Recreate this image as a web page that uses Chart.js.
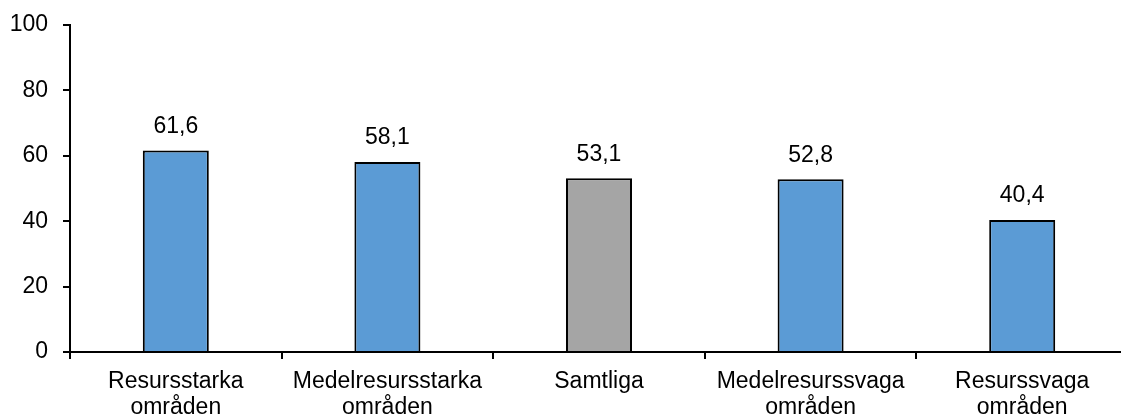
<!DOCTYPE html>
<html>
<head>
<meta charset="utf-8">
<script src="https://cdn.jsdelivr.net/npm/chart.js@4"></script>
<style>
  html, body { margin: 0; padding: 0; overflow: hidden; background: #fff; }
  #wrap { width: 1128px; height: 418px; }
</style>
</head>
<body>
<div id="wrap"><canvas id="omraden"></canvas></div>
<script>
var categories = [
    ['Resursstarka', 'områden'],
    ['Medelresursstarka', 'områden'],
    'Samtliga',
    ['Medelresurssvaga', 'områden'],
    ['Resurssvaga', 'områden']
];
var values = [61.6, 58.1, 53.1, 52.8, 40.4];
var barColors = ['#5B9BD5', '#5B9BD5', '#A5A5A5', '#5B9BD5', '#5B9BD5'];
var yTicks = [0, 20, 40, 60, 80, 100];

var fontFamily = '"Liberation Sans", Arial, sans-serif';
Chart.defaults.font.family = fontFamily;
Chart.defaults.font.size = 23;
Chart.defaults.color = '#000';

// value labels above the bars, with decimal comma
var valueLabels = {
    id: 'valueLabels',
    afterDatasetsDraw: function(chart) {
        var ctx = chart.ctx;
        var meta = chart.getDatasetMeta(0);
        ctx.save();
        ctx.font = '23px ' + fontFamily;
        ctx.fillStyle = '#000';
        ctx.textAlign = 'center';
        ctx.textBaseline = 'middle';
        meta.data.forEach(function(bar, i) {
            ctx.fillText(values[i].toFixed(1).replace('.', ','), bar.x, bar.y - 24);
        });
        ctx.restore();
    }
};

new Chart(document.getElementById('omraden'), {
    type: 'bar',
    data: {
        labels: categories,
        datasets: [{
            data: values,
            backgroundColor: barColors,
            borderColor: '#000',
            borderWidth: 2,
            barPercentage: 0.312,
            categoryPercentage: 1
        }]
    },
    plugins: [valueLabels],
    options: {
        responsive: true,
        maintainAspectRatio: false,
        animation: false,
        layout: { padding: { left: 0, right: 0, top: 25, bottom: 0 } },
        plugins: {
            legend: { display: false },
            tooltip: { enabled: false }
        },
        scales: {
            x: {
                offset: true,
                grid: {
                    offset: true,
                    drawOnChartArea: false,
                    drawTicks: true,
                    tickLength: 7,
                    color: '#000',
                    lineWidth: 2
                },
                border: { color: '#000', width: 2 },
                ticks: {
                    padding: 9,
                    maxRotation: 0,
                    autoSkip: false,
                    font: { size: 23, lineHeight: 1.15 }
                },
                afterFit: function(scale) { scale.height = 66; }
            },
            y: {
                min: 0,
                max: 100,
                afterBuildTicks: function(scale) {
                    scale.ticks = yTicks.map(function(v) { return { value: v }; });
                },
                grid: {
                    drawOnChartArea: false,
                    drawTicks: true,
                    tickLength: 7,
                    color: '#000',
                    lineWidth: 2
                },
                border: { color: '#000', width: 2 },
                ticks: { padding: 15, font: { size: 23 } },
                afterFit: function(scale) {
                    scale.width = 70;
                    scale.paddingTop = 0;
                    scale.paddingBottom = 0;
                }
            }
        }
    }
});
</script>
</body>
</html>
